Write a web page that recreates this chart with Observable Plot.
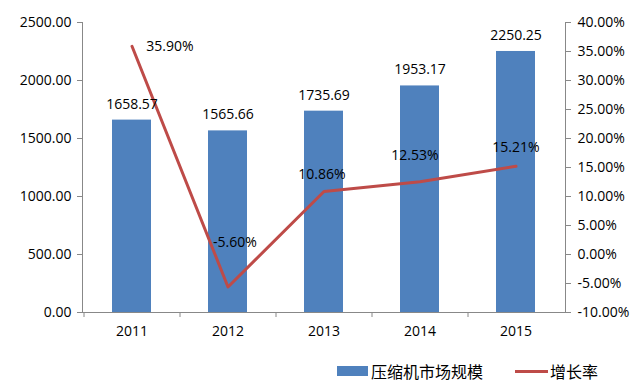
<!DOCTYPE html>
<html><head><meta charset="utf-8">
<script src="https://cdn.jsdelivr.net/npm/d3@7"></script>
<script src="https://cdn.jsdelivr.net/npm/@observablehq/plot@0.6"></script>
<style>
body{margin:0;background:#fff;}
#wrap{position:relative;width:642px;height:390px;font-family:"Open Sans",sans-serif;}
#legend{position:absolute;left:0;top:358px;width:642px;height:26px;}
.lg{position:absolute;top:0;height:26px;display:flex;align-items:center;font-family:"Noto Sans CJK SC",sans-serif;font-size:16px;color:#000;}
.sw{display:inline-block;width:31px;height:10px;background:#4F81BD;margin-right:3px;}
.ln{display:inline-block;width:33px;height:3px;background:#BE4B48;margin-right:2px;}
svg g[aria-label$="axis tick"]{stroke:#888;}
</style></head>
<body><div id="wrap"><div id="chart"></div>
<div id="legend"><div class="lg" style="left:337px"><span class="sw"></span>压缩机市场规模</div>
<div class="lg" style="left:515px"><span class="ln"></span>增长率</div></div></div>
<script>
const years = ["2011","2012","2013","2014","2015"];
const marketSize = [1658.57,1565.66,1735.69,1953.17,2250.25];
const growthRate = [35.90,-5.60,10.86,12.53,15.21];
const leftTicks = [0,500,1000,1500,2000,2500];
const rightTicks = [-10,-5,0,5,10,15,20,25,30,35,40];

const toY = r => (r + 10) / 50 * 2500;
const fromY = v => v / 2500 * 50 - 10;
const bars = years.map((y,i)=>({year:y, value:marketSize[i]}));
const rates = years.map((y,i)=>({year:y, rate:growthRate[i], v:toY(growthRate[i])}));
const ldx = [38,7,-2,-5,0];
const ldy = [0,-44,-17,-26,-19];

const chart = Plot.plot({
  width:642, height:340,
  marginLeft:82, marginRight:77, marginTop:22, marginBottom:28,
  style:{fontFamily:"Open Sans, sans-serif", fontSize:"14px", color:"#000", background:"#fff"},
  x:{domain:years, paddingInner:0.59, paddingOuter:0.295, label:null},
  y:{domain:[0,2500], label:null},
  marks:[
    Plot.barY(bars,{x:"year", y:"value", fill:"#4F81BD"}),
    Plot.frame({anchor:"left", stroke:"#888"}),
    Plot.frame({anchor:"right", stroke:"#888"}),
    Plot.frame({anchor:"bottom", stroke:"#888"}),
    Plot.axisY({anchor:"left", ticks:leftTicks, tickSize:5, tickPadding:6, tickFormat:d=>d.toFixed(2), label:null, fontSize:14}),
    Plot.axisY({anchor:"right", ticks:rightTicks.map(toY), tickSize:5, tickPadding:7, tickFormat:v=>fromY(v).toFixed(2)+"%", label:null, fontSize:14}),
    Plot.axisX({tickSize:0, tickPadding:14, label:null, fontSize:14}),
    Plot.axisX({tickSize:5, dx:-48, tickFormat:()=>"", label:null}),
    Plot.lineY(rates,{x:"year", y:"v", stroke:"#BE4B48", strokeWidth:3}),
    Plot.text(bars,{x:"year", y:"value", text:d=>d.value.toFixed(2), dy:-16, fontSize:14, fill:"#000"}),
    ...rates.map((d,i)=>Plot.text([d],{x:"year", y:"v", text:e=>e.rate.toFixed(2)+"%", dx:ldx[i], dy:ldy[i], fontSize:14, fill:"#000"}))
  ]
});
document.getElementById("chart").appendChild(chart);
</script></body></html>
